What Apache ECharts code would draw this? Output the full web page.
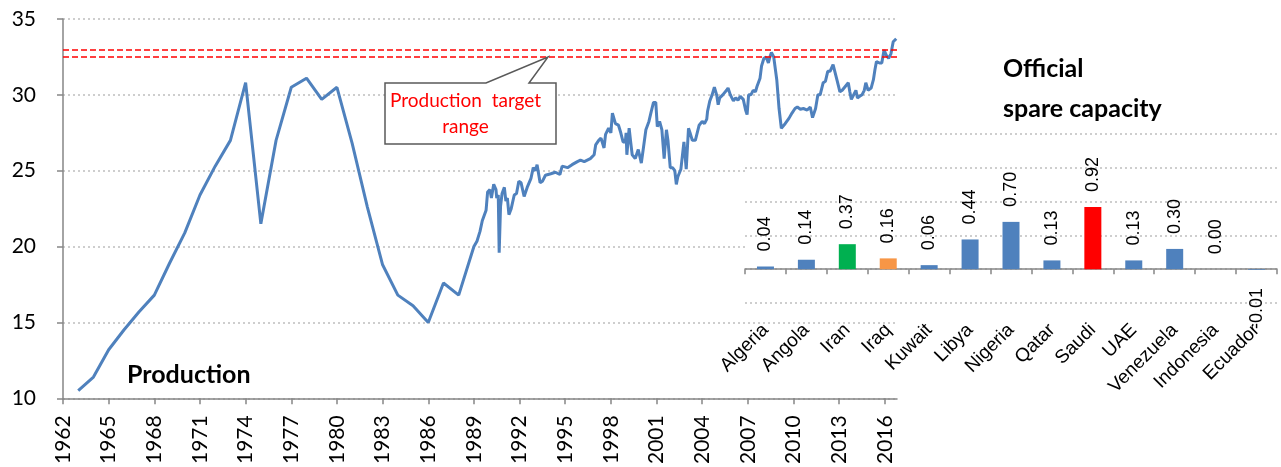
<!DOCTYPE html>
<html>
<head>
<meta charset="utf-8">
<script src="https://cdn.jsdelivr.net/npm/echarts@6/dist/echarts.min.js"></script>
<style>
  html, body { margin: 0; padding: 0; background: #fff; }
  #chart { width: 1281px; height: 467px; }
</style>
</head>
<body>
<div id="chart"></div>
<script>
// annual figures up to 1988, then roughly monthly
var prodYears = [
  1963, 1964, 1965, 1966, 1967, 1968, 1969, 1970, 1971, 1972, 1973, 1974, 1975, 1976, 1977, 1978,
  1979, 1980, 1981, 1982, 1983, 1984, 1985, 1986, 1987, 1988,
  1989.0, 1989.2, 1989.4, 1989.55, 1989.8, 1989.9, 1990.05, 1990.15, 1990.3, 1990.45, 1990.5, 1990.6,
  1990.66, 1990.75, 1990.85, 1991.0, 1991.1, 1991.2, 1991.3, 1991.45, 1991.65, 1991.8, 1991.95,
  1992.1, 1992.3, 1992.5, 1992.75, 1992.9, 1993.05, 1993.15, 1993.35, 1993.5, 1993.7, 1994.05,
  1994.35, 1994.65, 1994.8, 1995.15, 1995.45, 1995.8, 1996.0, 1996.25, 1996.45, 1996.65, 1996.9,
  1997.0, 1997.2, 1997.35, 1997.55, 1997.65, 1997.85, 1998.0, 1998.1, 1998.2, 1998.3, 1998.5,
  1998.65, 1998.8, 1998.95, 1999.0, 1999.05, 1999.2, 1999.3, 1999.4, 1999.6, 1999.8, 2000.0,
  2000.15, 2000.3, 2000.5, 2000.65, 2000.8, 2000.95, 2001.05, 2001.2, 2001.35, 2001.5, 2001.65,
  2001.75, 2001.9, 2002.05, 2002.2, 2002.3, 2002.4, 2002.6, 2002.8, 2002.95, 2003.1, 2003.2,
  2003.35, 2003.55, 2003.8, 2004.0, 2004.15, 2004.3, 2004.35, 2004.5, 2004.65, 2004.8, 2004.95,
  2005.05, 2005.15, 2005.35, 2005.6, 2005.7, 2005.85, 2006.05, 2006.2, 2006.35, 2006.5, 2006.7,
  2006.85, 2006.95, 2007.05, 2007.2, 2007.35, 2007.5, 2007.6, 2007.8, 2007.9, 2008.05, 2008.2,
  2008.35, 2008.45, 2008.55, 2008.7, 2008.9, 2009.05, 2009.2, 2009.3, 2009.45, 2009.7, 2009.9,
  2010.1, 2010.25, 2010.45, 2010.65, 2010.9, 2011.1, 2011.25, 2011.45, 2011.6, 2011.75, 2011.95,
  2012.1, 2012.25, 2012.4, 2012.6, 2012.7, 2012.85, 2013.05, 2013.2, 2013.4, 2013.6, 2013.7,
  2013.8, 2014.0, 2014.1, 2014.2, 2014.35, 2014.5, 2014.65, 2014.75, 2014.9, 2015.1, 2015.25,
  2015.35, 2015.45, 2015.65, 2015.8, 2015.95, 2016.1, 2016.25, 2016.4, 2016.55, 2016.75
];
var prodValues = [
  10.5, 11.4, 13.2, 14.5, 15.7, 16.8, 18.9, 20.9, 23.4, 25.3, 27.0, 30.8, 21.5, 27.0, 30.5, 31.1,
  29.7, 30.5, 26.8, 22.6, 18.8, 16.8, 16.1, 15.0, 17.6, 16.8,
  20.0, 20.35, 21.0, 21.7, 22.4, 23.6, 23.75, 23.2, 24.1, 23.75, 23.2, 23.4,
  19.6, 22.65, 23.5, 23.9, 23.0, 23.2, 22.1, 22.5, 23.4, 23.5, 24.3,
  24.2, 23.3, 23.9, 24.5, 25.2, 25.0, 25.4, 24.2, 24.3, 24.7, 24.8,
  24.9, 24.75, 25.3, 25.2, 25.4, 25.6, 25.7, 25.6, 25.7, 25.8, 26.05,
  26.7, 27.0, 27.15, 26.5, 27.4, 27.8, 27.5, 28.8, 28.9, 28.1, 28.0,
  27.5, 26.9, 26.9, 27.5, 26.05, 27.8, 26.9, 26.05, 25.8, 26.4, 25.5,
  26.6, 27.7, 28.25, 28.9, 29.5, 29.5, 27.9, 28.25, 27.7, 25.8, 27.7,
  27.0, 25.2, 25.2, 25.0, 24.1, 24.6, 25.1, 26.9, 25.1, 27.8, 27.5,
  27.0, 27.0, 28.0, 28.25, 28.1, 28.4, 28.9, 29.6, 30.0, 30.5, 30.0,
  29.35, 29.8, 30.0, 30.3, 30.45, 30.0, 29.6, 29.8, 29.65, 29.9, 29.7,
  29.0, 28.7, 30.0, 30.0, 30.3, 30.2, 30.55, 31.1, 31.9, 32.4, 32.5,
  32.1, 32.5, 32.8, 32.5, 31.0, 29.1, 27.8, 27.7, 28.1, 28.45, 28.8,
  29.1, 29.2, 29.05, 29.1, 29.0, 29.2, 28.5, 29.1, 30.0, 30.0, 30.8,
  30.9, 31.55, 31.55, 32.0, 31.9, 31.0, 30.2, 30.3, 30.55, 30.8, 30.2,
  29.7, 30.1, 30.3, 29.8, 29.9, 30.0, 30.3, 30.8, 30.3, 30.45, 31.0,
  31.65, 32.2, 32.1, 32.1, 32.95, 32.6, 32.4, 32.7, 33.5, 33.7
];
var targetRange = [32.5, 33.0];
var xTickYears = [1962, 1965, 1968, 1971, 1974, 1977, 1980, 1983, 1986, 1989, 1992, 1995,
  1998, 2001, 2004, 2007, 2010, 2013, 2016];

// inset: official spare capacity
var countries = ['Algeria', 'Angola', 'Iran', 'Iraq', 'Kuwait', 'Libya', 'Nigeria', 'Qatar',
  'Saudi', 'UAE', 'Venezuela', 'Indonesia', 'Ecuador'];
var spareCapacity = [0.04, 0.14, 0.37, 0.16, 0.06, 0.44, 0.70, 0.13, 0.92, 0.13, 0.30, 0.00, -0.01];
var barColors = ['#4f81bd', '#4f81bd', '#00b050', '#f79646', '#4f81bd', '#4f81bd', '#4f81bd',
  '#4f81bd', '#ff0000', '#4f81bd', '#4f81bd', '#4f81bd', '#4f81bd'];

var mainFont = 'Lato';
var insetFont = 'Liberation Sans';

var lineData = [];
for (var i = 0; i < prodYears.length; i++) {
    lineData.push([prodYears[i], prodValues[i]]);
}

var barData = [];
for (var j = 0; j < countries.length; j++) {
    var item = { value: spareCapacity[j], itemStyle: { color: barColors[j] } };
    //负值的标签放在柱子下方
    if (spareCapacity[j] < 0) {
        item.label = { position: 'bottom', align: 'right', distance: 18 };
    }
    barData.push(item);
}

var myChart = echarts.init(document.getElementById('chart'), null, { renderer: 'canvas' });
var option = {
    animation: false,
    grid: [{
        left: 63, right: 384, top: 19, bottom: 68
    }, {
        left: 745, top: 134, width: 532, height: 169,
        show: true, backgroundColor: '#ffffff', borderWidth: 0, z: 5
    }],
    xAxis: [{
        type: 'value',
        gridIndex: 0,
        min: 1962,
        max: 2016.8,
        axisLine: { lineStyle: { color: '#868686', width: 1.5 } },
        axisTick: { show: true, length: 6, customValues: xTickYears, lineStyle: { color: '#868686', width: 1.5 } },
        axisLabel: {
            rotate: 90, margin: 17, color: '#000', fontFamily: mainFont, fontSize: 21,
            customValues: xTickYears,
            formatter: function(v) { return String(v); }
        },
        splitLine: { show: false }
    }, {
        type: 'category',
        gridIndex: 1,
        data: countries,
        axisLine: { onZero: true, lineStyle: { color: '#868686', width: 1.5 } },
        axisTick: { show: true, length: 5, lineStyle: { color: '#868686', width: 1.5 } },
        axisLabel: {
            rotate: 45, margin: 24, color: '#000', fontFamily: insetFont, fontSize: 19, interval: 0
        },
        z: 6
    }],
    yAxis: [{
        type: 'value',
        gridIndex: 0,
        min: 10, max: 35, interval: 5,
        axisLine: { show: true, lineStyle: { color: '#868686', width: 1.5 } },
        axisTick: { show: true, length: 6, lineStyle: { color: '#868686', width: 1.5 } },
        axisLabel: { margin: 27, color: '#000', fontFamily: mainFont, fontSize: 21 },
        splitLine: { show: true, lineStyle: { color: '#bfbfbf', type: [2, 3], width: 1.5 } }
    }, {
        type: 'value',
        gridIndex: 1,
        min: -0.5, max: 2, interval: 0.5,
        axisLine: { show: false },
        axisTick: { show: false },
        axisLabel: { show: false },
        splitLine: { show: true, lineStyle: { color: '#bfbfbf', type: [2, 3], width: 1.5 } },
        z: 6
    }],
    series: [{
        type: 'line',
        xAxisIndex: 0,
        yAxisIndex: 0,
        data: lineData,
        showSymbol: false,
        lineStyle: { color: '#4f81bd', width: 3 },
        markLine: {
            silent: true,
            symbol: 'none',
            label: { show: false },
            lineStyle: { color: '#ff0000', type: [6, 3], width: 1.6 },
            data: targetRange.map(function(v) { return { yAxis: v }; })
        },
        z: 3
    }, {
        type: 'bar',
        xAxisIndex: 1,
        yAxisIndex: 1,
        data: barData,
        barWidth: 17,
        label: {
            show: true,
            position: 'top',
            rotate: 90,
            align: 'left',
            verticalAlign: 'middle',
            distance: 15,
            color: '#000',
            fontFamily: insetFont,
            fontSize: 18,
            formatter: function(p) { return p.value.toFixed(2); }
        },
        z: 7
    }],
    graphic: [{
        //目标区间的标注框
        type: 'polygon',
        z: 10,
        shape: { points: [[385, 83], [486, 83], [548, 57], [529, 83], [556, 83], [556, 144], [385, 144]] },
        style: { fill: '#fff', stroke: '#595959', lineWidth: 1.5 }
    }, {
        type: 'text',
        z: 11,
        left: 470 - 80,
        top: 88,
        style: {
            text: 'Production  target\nrange',
            x: 80,
            textAlign: 'center',
            fill: '#ff0000',
            font: '19px ' + mainFont,
            lineHeight: 26
        }
    }, {
        type: 'text',
        z: 11,
        left: 127,
        top: 362,
        style: { text: 'Production', fill: '#000', font: 'bold 25px ' + mainFont }
    }, {
        type: 'text',
        z: 11,
        left: 1003,
        top: 49,
        style: { text: 'Official\nspare capacity', fill: '#000', font: 'bold 25px ' + mainFont, lineHeight: 40 }
    }]
};
myChart.setOption(option);
</script>
</body>
</html>
